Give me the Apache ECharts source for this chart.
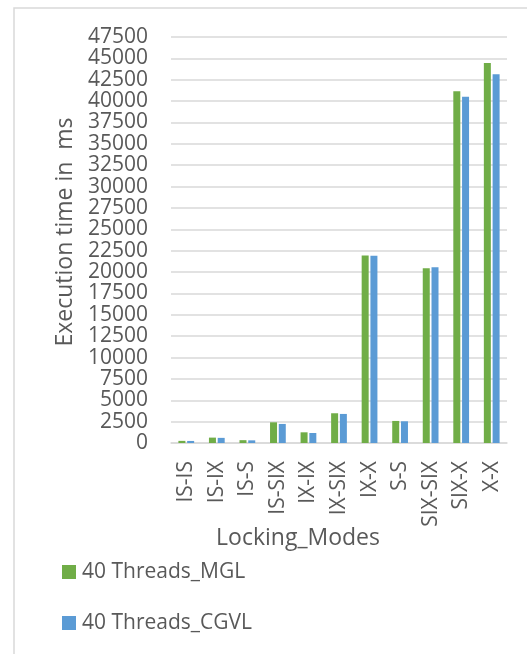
<!DOCTYPE html>
<html>
<head>
<meta charset="utf-8">
<script src="https://cdn.jsdelivr.net/npm/echarts@6/dist/echarts.min.js"></script>
<style>
  html, body { margin: 0; padding: 0; background: #fff; }
  #chart { width: 527px; height: 654px; }
</style>
</head>
<body>
<div id="chart"></div>
<script>
// Lock mode pairs and measured execution times (ms)
const modes = ['IS-IS', 'IS-IX', 'IS-S', 'IS-SIX', 'IX-IX', 'IX-SIX', 'IX-X', 'S-S', 'SIX-SIX', 'SIX-X', 'X-X'];
const mglTimes = [250, 630, 330, 2420, 1250, 3480, 21950, 2580, 20450, 41150, 44450];
const cgvlTimes = [240, 600, 310, 2230, 1170, 3400, 21900, 2540, 20550, 40500, 43150];
const seriesNames = ['40 Threads_MGL', '40 Threads_CGVL'];
const yTitle = 'Execution time in  ms';
const xTitle = 'Locking_Modes';

const FONT = '"Open Sans", "Noto Sans", sans-serif';
const TXT = '#595959';

const chart = echarts.init(document.getElementById('chart'));
chart.setOption({
  animation: false,
  backgroundColor: '#ffffff',
  grid: { left: 171, right: 20, top: 37, bottom: 211, containLabel: false },
  legend: {
    orient: 'vertical',
    left: 57,
    top: 555,
    itemWidth: 14,
    itemHeight: 14,
    itemGap: 27,
    icon: 'rect',
    data: seriesNames,
    textStyle: { fontFamily: FONT, fontSize: 21, color: TXT, lineHeight: 24, padding: [0, 0, 0, 1] }
  },
  xAxis: {
    type: 'category',
    data: modes,
    axisLine: { lineStyle: { color: '#d9d9d9', width: 1.5 } },
    axisTick: { show: false },
    axisLabel: { rotate: 90, margin: 18, fontFamily: FONT, fontSize: 21, color: TXT, interval: 0 }
  },
  yAxis: {
    type: 'value',
    min: 0,
    max: 47500,
    interval: 2500,
    axisLine: { show: false },
    axisTick: { show: false },
    splitLine: { lineStyle: { color: '#d9d9d9', width: 1.5 } },
    axisLabel: {
      margin: 23, fontFamily: FONT, fontSize: 21, color: TXT,
      formatter: v => String(v)
    }
  },
  series: [
    {
      name: seriesNames[0], type: 'bar', data: mglTimes,
      barWidth: 7, barGap: '25%',
      itemStyle: { color: '#70ad47' }
    },
    {
      name: seriesNames[1], type: 'bar', data: cgvlTimes,
      barWidth: 7, barGap: '25%',
      itemStyle: { color: '#5b9bd5' }
    }
  ],
  graphic: [
    {
      type: 'rect',
      shape: { x: 14, y: 8, width: 600, height: 700 },
      style: { fill: 'none', stroke: '#d9d9d9', lineWidth: 1.5 },
      z: -10
    },
    {
      type: 'text',
      x: 65, y: 232,
      rotation: Math.PI / 2,
      style: {
        text: yTitle, fontFamily: FONT, fontSize: 23, fill: TXT,
        align: 'center', verticalAlign: 'middle'
      }
    },
    {
      type: 'text',
      x: 298, y: 538,
      style: {
        text: xTitle, fontFamily: FONT, fontSize: 23, fill: TXT,
        align: 'center', verticalAlign: 'middle'
      }
    }
  ]
});
</script>
</body>
</html>
